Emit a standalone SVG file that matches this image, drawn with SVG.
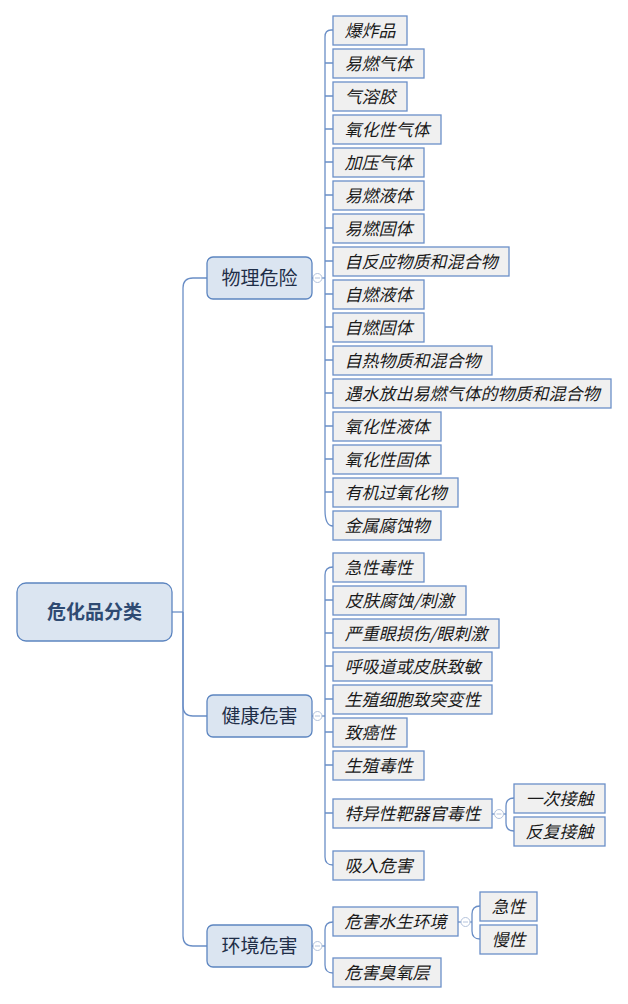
<svg xmlns="http://www.w3.org/2000/svg" width="628" height="1004" viewBox="0 0 628 1004">
<style>
.leaf rect{fill:#f0f0f0;stroke:#6a8fc8;stroke-width:1.3}
.leaf text{font-family:"Noto Sans CJK SC","Noto Sans",sans-serif;font-size:17px;font-style:italic;fill:#1a1a1a;text-anchor:middle}
.br rect{fill:#dbe5f1;stroke:#5c85c0;stroke-width:1.3}
.br text{font-family:"Noto Sans CJK SC","Noto Sans",sans-serif;font-size:19px;fill:#1f2e48;text-anchor:middle}
.root rect{fill:#dbe5f1;stroke:#5c85c0;stroke-width:1.3}
.root text{font-family:"Noto Sans CJK SC","Noto Sans",sans-serif;font-size:19px;font-weight:bold;fill:#2e4a72;text-anchor:middle}
.c path{fill:none;stroke:#6a8ec6;stroke-width:1.3}
.tog circle{fill:#fff;stroke:#b4c3dc;stroke-width:1}
.tog line{stroke:#b4c3dc;stroke-width:1}
</style>
<g class="c" id="connectors">
<path d="M172,612 H183"/>
<path d="M183,612 V288 Q183,278 193,278 H207"/>
<path d="M183,612 V706 Q183,716 193,716 H207"/>
<path d="M183,612 V936 Q183,946 193,946 H207"/>
<path d="M312,278 H325"/>
<path d="M325,278 V37 Q325,30 331,30 H333"/>
<path d="M325,278 V510 Q325,526 333,526"/>
<path d="M325,63 H333 M325,96 H333 M325,129 H333 M325,162 H333 M325,195 H333 M325,228 H333 M325,261 H333 M325,294 H333 M325,327 H333 M325,360 H333 M325,393 H333 M325,426 H333 M325,459 H333 M325,492 H333"/>
<path d="M312,716 H325"/>
<path d="M325,716 V575 Q325,567 333,567"/>
<path d="M325,716 V857 Q325,865 333,865"/>
<path d="M325,600 H333 M325,633 H333 M325,666 H333 M325,699 H333 M325,732 H333 M325,765 H333 M325,813 H333"/>
<path d="M492,814 H506"/>
<path d="M506,814 V806 Q506,798 514,798"/>
<path d="M506,814 V823 Q506,831 514,831"/>
<path d="M312,946 H325"/>
<path d="M325,946 V930 Q325,922 333,922"/>
<path d="M325,946 V965 Q325,973 333,973"/>
<path d="M458,922 H472"/>
<path d="M472,922 V914 Q472,906 480,906"/>
<path d="M472,922 V931 Q472,939 480,939"/>
</g>
<g class="tog" id="toggles">
<circle cx="317.5" cy="278" r="4.5"/><line x1="315" y1="278" x2="320" y2="278"/>
<circle cx="317.5" cy="716" r="4.5"/><line x1="315" y1="716" x2="320" y2="716"/>
<circle cx="317.5" cy="946" r="4.5"/><line x1="315" y1="946" x2="320" y2="946"/>
<circle cx="499" cy="814" r="4.5"/><line x1="496.5" y1="814" x2="501.5" y2="814"/>
<circle cx="465.5" cy="922" r="4.5"/><line x1="463" y1="922" x2="468" y2="922"/>
</g>
<g class="root" id="n-root"><rect x="17" y="583" width="155" height="58" rx="9"/><text x="94.5" y="619">危化品分类</text></g>
<g class="br" id="n-phys"><rect x="207" y="257" width="105" height="42" rx="6"/><text x="259.5" y="285">物理危险</text></g>
<g class="br" id="n-health"><rect x="207" y="695" width="105" height="42" rx="6"/><text x="259.5" y="723">健康危害</text></g>
<g class="br" id="n-env"><rect x="207" y="925" width="105" height="42" rx="6"/><text x="259.5" y="953">环境危害</text></g>
<g class="leaf" id="p1"><rect x="333" y="16" width="74" height="29"/><text x="370" y="36.5">爆炸品</text></g>
<g class="leaf" id="p2"><rect x="333" y="49" width="91" height="29"/><text x="378.5" y="69.5">易燃气体</text></g>
<g class="leaf" id="p3"><rect x="333" y="82" width="74" height="29"/><text x="370" y="102.5">气溶胶</text></g>
<g class="leaf" id="p4"><rect x="333" y="115" width="108" height="29"/><text x="387" y="135.5">氧化性气体</text></g>
<g class="leaf" id="p5"><rect x="333" y="148" width="91" height="29"/><text x="378.5" y="168.5">加压气体</text></g>
<g class="leaf" id="p6"><rect x="333" y="181" width="91" height="29"/><text x="378.5" y="201.5">易燃液体</text></g>
<g class="leaf" id="p7"><rect x="333" y="214" width="91" height="29"/><text x="378.5" y="234.5">易燃固体</text></g>
<g class="leaf" id="p8"><rect x="333" y="247" width="176" height="29"/><text x="421" y="267.5">自反应物质和混合物</text></g>
<g class="leaf" id="p9"><rect x="333" y="280" width="91" height="29"/><text x="378.5" y="300.5">自燃液体</text></g>
<g class="leaf" id="p10"><rect x="333" y="313" width="91" height="29"/><text x="378.5" y="333.5">自燃固体</text></g>
<g class="leaf" id="p11"><rect x="333" y="346" width="159" height="29"/><text x="412.5" y="366.5">自热物质和混合物</text></g>
<g class="leaf" id="p12"><rect x="333" y="379" width="278" height="29"/><text x="472" y="399.5">遇水放出易燃气体的物质和混合物</text></g>
<g class="leaf" id="p13"><rect x="333" y="412" width="108" height="29"/><text x="387" y="432.5">氧化性液体</text></g>
<g class="leaf" id="p14"><rect x="333" y="445" width="108" height="29"/><text x="387" y="465.5">氧化性固体</text></g>
<g class="leaf" id="p15"><rect x="333" y="478" width="125" height="29"/><text x="395.5" y="498.5">有机过氧化物</text></g>
<g class="leaf" id="p16"><rect x="333" y="511" width="108" height="29"/><text x="387" y="531.5">金属腐蚀物</text></g>
<g class="leaf" id="h1"><rect x="333" y="553" width="91" height="29"/><text x="378.5" y="573.5">急性毒性</text></g>
<g class="leaf" id="h2"><rect x="333" y="586" width="133" height="29"/><text x="399.5" y="606.5">皮肤腐蚀/刺激</text></g>
<g class="leaf" id="h3"><rect x="333" y="619" width="166" height="29"/><text x="416" y="639.5">严重眼损伤/眼刺激</text></g>
<g class="leaf" id="h4"><rect x="333" y="652" width="159" height="29"/><text x="412.5" y="672.5">呼吸道或皮肤致敏</text></g>
<g class="leaf" id="h5"><rect x="333" y="685" width="159" height="29"/><text x="412.5" y="705.5">生殖细胞致突变性</text></g>
<g class="leaf" id="h6"><rect x="333" y="718" width="74" height="29"/><text x="370" y="738.5">致癌性</text></g>
<g class="leaf" id="h7"><rect x="333" y="751" width="91" height="29"/><text x="378.5" y="771.5">生殖毒性</text></g>
<g class="leaf" id="h8"><rect x="333" y="799" width="159" height="29"/><text x="412.5" y="819.5">特异性靶器官毒性</text></g>
<g class="leaf" id="h8a"><rect x="514" y="784" width="91" height="29"/><text x="559.5" y="804.5">一次接触</text></g>
<g class="leaf" id="h8b"><rect x="514" y="817" width="91" height="29"/><text x="559.5" y="837.5">反复接触</text></g>
<g class="leaf" id="h9"><rect x="333" y="851" width="91" height="29"/><text x="378.5" y="871.5">吸入危害</text></g>
<g class="leaf" id="e1"><rect x="333" y="907" width="125" height="29"/><text x="395.5" y="927.5">危害水生环境</text></g>
<g class="leaf" id="e1a"><rect x="480" y="892" width="57" height="29"/><text x="508.5" y="912.5">急性</text></g>
<g class="leaf" id="e1b"><rect x="480" y="925" width="57" height="29"/><text x="508.5" y="945.5">慢性</text></g>
<g class="leaf" id="e2"><rect x="333" y="958" width="108" height="29"/><text x="387" y="978.5">危害臭氧层</text></g>
</svg>
